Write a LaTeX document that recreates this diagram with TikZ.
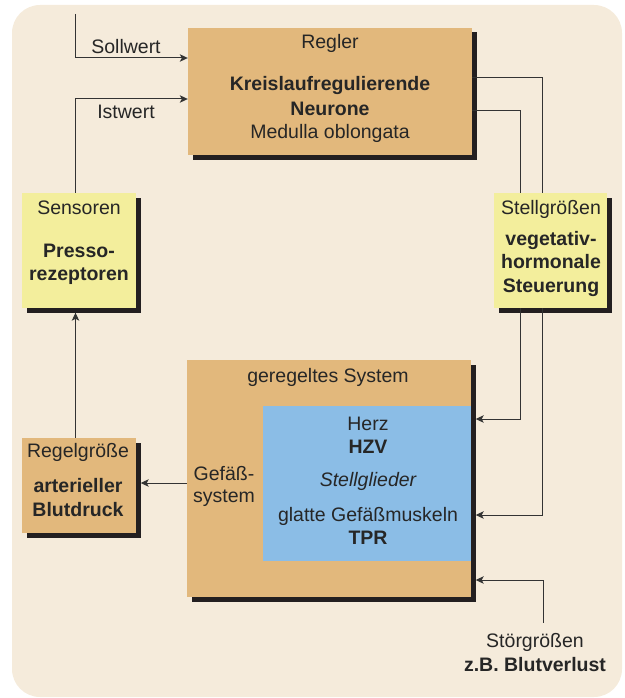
\documentclass[tikz,border=0pt]{standalone}
\usepackage{fontspec}
\setmainfont{Liberation Sans}
\usetikzlibrary{arrows.meta,shadows}

\definecolor{hintergrund}{HTML}{F5EBDB}
\definecolor{orange}{HTML}{E2B87C}
\definecolor{gelb}{HTML}{F3EE9C}
\definecolor{blau}{HTML}{8BBDE6}
\definecolor{schatten}{HTML}{231F20}

\newcommand\grundschrift{\fontsize{19.5}{23.5}\selectfont}

\tikzset{
  kasten/.style={inner sep=0pt, drop shadow={shadow xshift=4.5pt, shadow yshift=-4.5pt, fill=schatten, opacity=1}},
  flaeche/.style={inner sep=0pt},
  txt/.style={anchor=base, inner sep=0pt, text=black!85, font=\grundschrift},
  fett/.style={txt, font=\grundschrift\bfseries},
  kursiv/.style={txt, font=\grundschrift\itshape},
  linie/.style={draw=black!80, line width=1pt},
  pfeil/.style={linie, -{Stealth[length=8pt,width=7.5pt,inset=2pt]}}
}

\begin{document}
\begin{tikzpicture}[x=1pt,y=-1pt]
\useasboundingbox (0,0) rectangle (624,698);
\fill[hintergrund, rounded corners=28pt] (12,5) rectangle (622,697);

% Kaesten
\node[kasten, fill=orange, minimum width=284pt, minimum height=127pt] (regler) at (330,91.5) {};
\node[kasten, fill=gelb, minimum width=114pt, minimum height=115pt] (sens) at (79,250.5) {};
\node[kasten, fill=gelb, minimum width=113pt, minimum height=115pt] (stell) at (550.5,250.5) {};
\node[kasten, fill=orange, minimum width=114pt, minimum height=95pt] (regelg) at (79,485.5) {};
\node[kasten, fill=orange, minimum width=284pt, minimum height=237pt] (system) at (329,478.5) {};
\node[flaeche, fill=blau, minimum width=208pt, minimum height=155pt] (stellgl) at (367,483.5) {};

% Texte
\node[txt] (reglertitel) at (330,49) {Regler};
\node[fett] (neurone1) at (330,91) {Kreislaufregulierende};
\node[fett] (neurone2) at (330,115) {Neurone};
\node[txt] (medulla) at (330,138) {Medulla oblongata};

\node[txt] (senstitel) at (79,214) {Sensoren};
\node[fett] (presso1) at (79,257) {Presso-};
\node[fett] (presso2) at (79,280) {rezeptoren};

\node[txt] (stelltitel) at (551,214) {Stellgrößen};
\node[fett] (veget1) at (551,245) {vegetativ-};
\node[fett] (veget2) at (551,268) {hormonale};
\node[fett] (veget3) at (551,292) {Steuerung};

\node[txt] (regelgtitel) at (78,457) {Regelgröße};
\node[fett] (druck1) at (78,492) {arterieller};
\node[fett] (druck2) at (78,516) {Blutdruck};

\node[txt] (systemtitel) at (328,382) {geregeltes System};
\node[txt] (herz) at (368,430) {Herz};
\node[fett] (hzv) at (368,453) {HZV};
\node[kursiv] (stellgltitel) at (368,486) {Stellglieder};
\node[txt] (muskeln) at (368,521) {glatte Gefäßmuskeln};
\node[fett] (tpr) at (368,544) {TPR};
\node[txt] (gefaess1) at (224,480) {Gefäß-};
\node[txt] (gefaess2) at (224,502) {system};

\node[txt] (soll) at (126,54) {Sollwert};
\node[txt] (ist) at (126,118) {Istwert};
\node[txt] (stoer) at (535,647) {Störgrößen};
\node[fett] (stoerbsp) at (535,671) {z.B. Blutverlust};

% Verbindungen
\coordinate (sollquelle) at (75.5,14);
\draw[pfeil] (sollquelle) |- (regler.west |- 0,58);
\draw[pfeil] ([xshift=-3.5pt]sens.north) |- (regler.west |- 0,99);
\draw[pfeil, shorten >=4.5pt] ([xshift=-3.5pt]regelg.north) -- ([xshift=-3.5pt]sens.south);
\draw[pfeil, shorten >=4.5pt] (system.west |- 0,483) -- (regelg.east |- 0,483);
\draw[linie] (regler.east |- 0,78) -| ([xshift=-8.5pt]stell.north);
\draw[linie] (regler.east |- 0,111) -| ([xshift=-30.5pt]stell.north);
\draw[pfeil, shorten >=4.5pt] ([xshift=-30.5pt]stell.south) |- (system.east |- 0,419);
\draw[pfeil, shorten >=4.5pt] ([xshift=-8.5pt]stell.south) |- (system.east |- 0,515);
\draw[pfeil, shorten >=4.5pt] ([xshift=8pt,yshift=10pt]stoer.north) |- (system.east |- 0,580);
\end{tikzpicture}
\end{document}
